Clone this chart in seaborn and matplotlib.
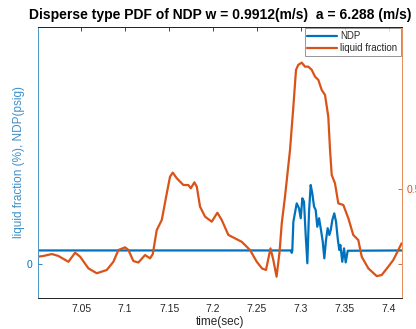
import matplotlib
matplotlib.use("Agg")
import matplotlib.pyplot as plt
import seaborn as sns
import pandas as pd

# ---- data ----
time_lf = [7.001, 7.0072, 7.0167, 7.0242, 7.0356, 7.0432, 7.0489, 7.0583, 7.0678, 7.0792,
           7.0867, 7.0924, 7.1000, 7.1038, 7.1094, 7.1151, 7.1227, 7.1284, 7.1315, 7.1341,
           7.1360, 7.1417, 7.1474, 7.1511, 7.1542, 7.1588, 7.1663, 7.1719, 7.1747, 7.1788,
           7.1815, 7.1852, 7.1909, 7.1985, 7.2049, 7.2099, 7.2174, 7.2250, 7.2326, 7.2420,
           7.2497, 7.2557, 7.2602, 7.2653, 7.2685, 7.2722, 7.2756, 7.2781, 7.2818, 7.2875,
           7.2913, 7.2943, 7.2969, 7.3008, 7.3045, 7.3083, 7.3122, 7.3159, 7.3197, 7.3235,
           7.3273, 7.3310, 7.3330, 7.3349, 7.3386, 7.3424, 7.3481, 7.3538, 7.3594, 7.3651,
           7.3690, 7.3765, 7.3860, 7.3917, 7.3992, 7.4049, 7.4106, 7.4144]
liquid_fraction = [0.049, 0.054, 0.067, 0.054, 0.015, 0.076, 0.049, -0.029, -0.062, -0.040,
                   0.015, 0.094, 0.112, 0.094, 0.020, 0.010, 0.060, 0.038, 0.067, 0.161,
                   0.228, 0.295, 0.474, 0.586, 0.613, 0.575, 0.530, 0.530, 0.508, 0.548,
                   0.519, 0.385, 0.318, 0.284, 0.344, 0.295, 0.195, 0.172, 0.149, 0.094,
                   0.015, -0.030, -0.040, 0.105, 0.027, -0.085, 0.081, 0.273, 0.452, 0.765,
                   1.056, 1.302, 1.336, 1.351, 1.324, 1.324, 1.302, 1.257, 1.235, 1.168,
                   1.134, 0.989, 0.765, 0.597, 0.542, 0.407, 0.396, 0.307, 0.195, 0.161,
                   0.049, -0.029, -0.081, -0.074, -0.018, 0.027, 0.094, 0.139]

time_ndp = [7.001, 7.2885, 7.2895, 7.2901, 7.2913, 7.2951, 7.2977, 7.2997, 7.3015, 7.3034,
            7.3053, 7.3072, 7.3091, 7.3110, 7.3128, 7.3148, 7.3167, 7.3185, 7.3205, 7.3227,
            7.3247, 7.3265, 7.3284, 7.3303, 7.3322, 7.3338, 7.3356, 7.3378, 7.3398, 7.3417,
            7.3435, 7.3447, 7.3469, 7.3489, 7.3508, 7.3531, 7.4148]
ndp = [0.091, 0.091, 0.075, 0.091, 0.283, 0.407, 0.374, 0.307, 0.441, 0.418,
       0.195, 0.005, 0.351, 0.530, 0.474, 0.385, 0.362, 0.250, 0.307, 0.228,
       0.150, 0.038, 0.161, 0.240, 0.195, 0.228, 0.295, 0.340, 0.284, 0.172,
       0.094, 0.128, 0.015, 0.105, 0.011, 0.089, 0.091]

x_ticks = [7.05, 7.1, 7.15, 7.2, 7.25, 7.3, 7.35, 7.4]
x_tick_labels = ["7.05", "7.1", "7.15", "7.2", "7.25", "7.3", "7.35", "7.4"]

title = "Disperse type PDF of NDP w = 0.9912(m/s)  a = 6.288 (m/s)"

# ---- style ----
sns.set_theme(style="white")
plt.rcParams["font.family"] = ["Liberation Sans", "DejaVu Sans"]

BLUE = "#0072BD"
ORANGE = "#D95319"
DARK = "#262626"

fig = plt.figure(figsize=(4.16, 3.29), dpi=100)
ax = fig.add_axes([38 / 416, 31 / 329, 364 / 416, 271 / 329])
ax2 = ax.twinx()

df_ndp = pd.DataFrame({"time": time_ndp, "NDP": ndp})
df_lf = pd.DataFrame({"time": time_lf, "lf": liquid_fraction})

sns.lineplot(data=df_ndp, x="time", y="NDP", ax=ax, color=BLUE, lw=1.6,
             estimator=None, sort=False, legend=False)
sns.lineplot(data=df_lf, x="time", y="lf", ax=ax2, color=ORANGE, lw=1.6,
             estimator=None, sort=False, legend=False)

ax.set_xlim(7.001, 7.4148)
ax.set_ylim(-0.228, 1.59)
ax2.set_ylim(-0.228, 1.59)

ax.set_xticks(x_ticks)
ax.set_xticklabels(x_tick_labels)
ax.set_yticks([0])
ax.set_yticklabels(["0"])
ax2.set_yticks([0, 0.5])
ax2.set_yticklabels(["", "0.5"])

ax.tick_params(axis="x", direction="in", length=3, top=True, colors=DARK,
               labelsize=7.5, pad=4, width=0.6)
ax.tick_params(axis="y", direction="in", length=3, colors=BLUE, labelsize=7.5,
               pad=4, width=0.6)
ax2.tick_params(axis="y", direction="in", length=3, colors=ORANGE, labelsize=7.5,
                pad=3, width=0.6)

for a in (ax, ax2):
    for s in a.spines.values():
        s.set_linewidth(0.7)
    a.spines["top"].set_color(DARK)
    a.spines["bottom"].set_color(DARK)
    a.spines["left"].set_color("#4f98c9")
    a.spines["right"].set_color("#e8905f")
ax2.set_ylabel("")

ax.set_xlabel("time(sec)", fontsize=8.5, color=DARK, labelpad=2)
ax.set_ylabel("liquid fraction (%), NDP(psig)", fontsize=8.5, color="#3e90c8", labelpad=1)
ax.set_title(title, fontsize=10, fontweight="bold", color="black", pad=6)

handles = [ax.get_lines()[0], ax2.get_lines()[0]]
leg = ax2.legend(handles, ["NDP", "liquid fraction"], loc="upper right",
                 fontsize=7, frameon=True, fancybox=False, handlelength=3.0,
                 handletextpad=0.4, borderpad=0.3, labelspacing=0.2,
                 borderaxespad=0.15)
leg.get_frame().set_edgecolor("#7a7a7a")
leg.get_frame().set_linewidth(0.7)

fig.savefig("out.png", dpi=100)
